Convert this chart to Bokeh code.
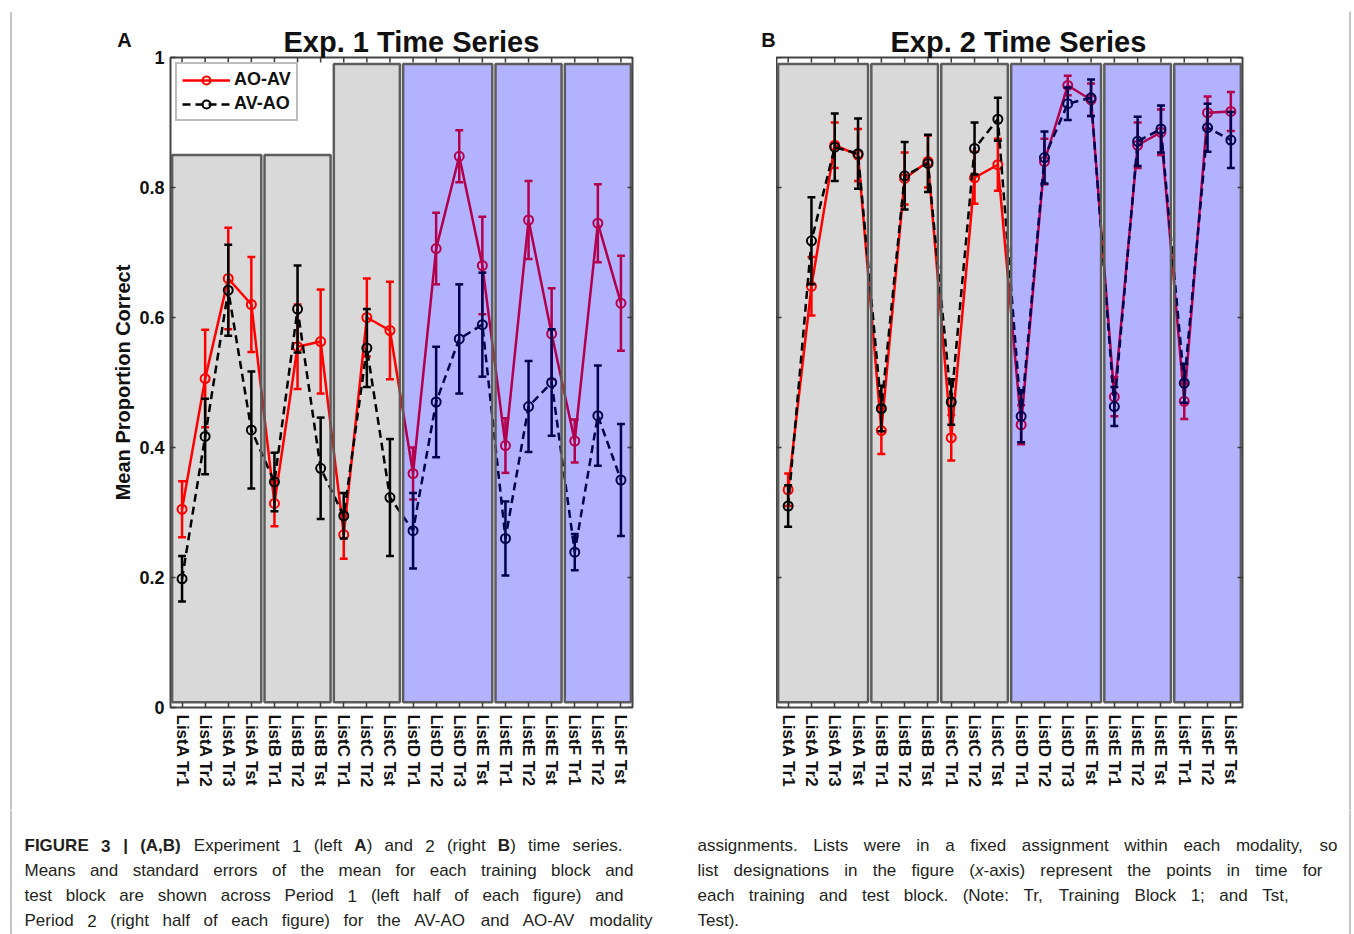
import re
import numpy as np
from bokeh.plotting import figure
from bokeh.models import (Range1d, FixedTicker, Legend, LegendItem, NumeralTickFormatter, Title,
                          Plot)
from bokeh.layouts import column, row
from bokeh.embed import file_html
from bokeh.resources import INLINE
from bokeh.core.properties import value

# ---------------- data ----------------
categories = ["ListA Tr1", "ListA Tr2", "ListA Tr3", "ListA Tst",
              "ListB Tr1", "ListB Tr2", "ListB Tst",
              "ListC Tr1", "ListC Tr2", "ListC Tst",
              "ListD Tr1", "ListD Tr2", "ListD Tr3", "ListE Tst",
              "ListE Tr1", "ListE Tr2", "ListE Tst",
              "ListF Tr1", "ListF Tr2", "ListF Tst"]
block_sizes = [4, 3, 3, 4, 3, 3]
block_is_period2 = [False, False, False, True, True, True]
exp1_block_tops = [0.85, 0.85, 0.99, 0.99, 0.99, 0.99]
exp2_block_tops = [0.99, 0.99, 0.99, 0.99, 0.99, 0.99]
y_ticks = [0, 0.2, 0.4, 0.6, 0.8, 1]
series_names = ["AO-AV", "AV-AO"]

exp1_aoav = [0.305, 0.506, 0.660, 0.620, 0.314, 0.555, 0.563, 0.266, 0.600, 0.580,
             0.360, 0.706, 0.848, 0.680, 0.403, 0.750, 0.575, 0.410, 0.745, 0.622]
exp1_aoav_se = [0.043, 0.075, 0.078, 0.073, 0.035, 0.065, 0.080, 0.037, 0.060, 0.075,
                0.040, 0.055, 0.040, 0.075, 0.042, 0.060, 0.070, 0.033, 0.060, 0.073]
exp1_avao = [0.198, 0.417, 0.642, 0.427, 0.347, 0.613, 0.368, 0.295, 0.553, 0.323,
             0.272, 0.470, 0.567, 0.589, 0.260, 0.463, 0.500, 0.239, 0.449, 0.350]
exp1_avao_se = [0.035, 0.058, 0.070, 0.090, 0.045, 0.067, 0.078, 0.035, 0.060, 0.090,
                0.058, 0.085, 0.084, 0.080, 0.057, 0.070, 0.082, 0.028, 0.077, 0.086]

exp2_aoav = [0.335, 0.648, 0.865, 0.850, 0.426, 0.814, 0.840, 0.415, 0.815, 0.835,
             0.435, 0.840, 0.957, 0.935, 0.478, 0.865, 0.885, 0.471, 0.915, 0.917]
exp2_aoav_se = [0.025, 0.045, 0.035, 0.040, 0.036, 0.040, 0.040, 0.035, 0.040, 0.040,
                0.030, 0.035, 0.015, 0.025, 0.030, 0.035, 0.035, 0.027, 0.025, 0.030]
exp2_avao = [0.310, 0.718, 0.862, 0.852, 0.460, 0.818, 0.837, 0.470, 0.860, 0.905,
             0.448, 0.846, 0.929, 0.938, 0.463, 0.871, 0.890, 0.499, 0.892, 0.873]
exp2_avao_se = [0.032, 0.067, 0.052, 0.054, 0.035, 0.052, 0.044, 0.035, 0.040, 0.033,
                0.040, 0.040, 0.025, 0.028, 0.030, 0.038, 0.036, 0.030, 0.037, 0.043]

titles = ["Exp. 1 Time Series", "Exp. 2 Time Series"]
panel_letters = ["A", "B"]
y_axis_title = "Mean Proportion Correct"

caption_left = [
    "**FIGURE** **3** **|** **(A,B)** Experiment 1 (left **A**) and 2 (right **B**) time series.",
    "Means and standard errors of the mean for each training block and",
    "test block are shown across Period 1 (left half of each figure) and",
    "Period 2 (right half of each figure) for the AV-AO and AO-AV modality",
]
caption_right = [
    "assignments. Lists were in a fixed assignment within each modality, so",
    "list designations in the figure (_x_-axis) represent the points in time for",
    "each training and test block. (Note: Tr, Training Block 1; and Tst,",
    "Test).",
]

# ---------------- style / geometry ----------------
FONT = "Liberation Sans"
RED = "#ff0000"
BLACK = "#000000"
GRAY_FILL = "#d9d9d9"
EDGE = "#5c5c5c"
BORDER = "#8a8a8a"
TXT = "#111111"
W = 1354
H = 934
HEAD_H = 11          # strip holding the top page border line
ROW_H = 799          # panels row
CAP_H = H - HEAD_H - ROW_H
FRAME_TOP = 46       # in row coordinates
FRAME_H = 650
BOTTOM_B = ROW_H - FRAME_TOP - FRAME_H
TICK_PX = 5
HAS_FRAME_ALIGN = "frame_align" in Plot.properties()


def no_align(f):
    if HAS_FRAME_ALIGN:
        f.frame_align = False
    return f


def blank_fig(w, h):
    f = figure(width=w, height=h, x_range=Range1d(0, w), y_range=Range1d(h, 0),
               output_backend="svg", toolbar_location=None,
               x_axis_type=None, y_axis_type=None, min_border=0)
    f.outline_line_color = None
    f.background_fill_color = "white"
    f.border_fill_color = "white"
    return no_align(f)


def make_panel(title, aoav, aoav_se, avao, avao_se, tops, width, bl, br,
               title_offset, with_yaxis, show_legend):
    n = len(categories)
    xs = np.arange(1, n + 1)
    p = figure(width=width, height=ROW_H, x_range=Range1d(0.5, n + 0.5),
               y_range=Range1d(0, 1), output_backend="svg", toolbar_location=None,
               y_axis_location="left" if with_yaxis else None,
               min_border_left=bl, min_border_right=br, min_border_top=FRAME_TOP,
               min_border_bottom=BOTTOM_B)
    no_align(p)
    p.xgrid.visible = False
    p.ygrid.visible = False
    p.outline_line_color = "#454545"
    p.outline_line_width = 2
    p.background_fill_color = "white"
    p.border_fill_color = "white"
    fw = width - bl - br
    dxu = n / fw            # data units per pixel (x)
    dyu = 1.0 / FRAME_H     # data units per pixel (y)

    sizes = np.array(block_sizes)
    first = np.cumsum(np.r_[0, sizes[:-1]]) + 1
    last = first + sizes - 1
    inset = 0.07
    lefts = first - 0.5 + inset
    rights = last + 0.5 - inset
    bottoms = np.full(len(sizes), 0.008)
    tops = np.array(tops, dtype=float)
    per2 = np.array(block_is_period2)

    p.quad(left=lefts[~per2], right=rights[~per2], bottom=bottoms[~per2], top=tops[~per2],
           fill_color=GRAY_FILL, line_color=None)
    p.quad(left=lefts[per2], right=rights[per2], bottom=bottoms[per2], top=tops[per2],
           fill_color="white", line_color=None)

    def draw(color, dash, y, se):
        y = np.array(y)
        se = np.array(se)
        lo = y - se
        hi = y + se
        cw = 0.17
        p.segment(xs, lo, xs, hi, line_color=color, line_width=2.5)
        p.segment(xs - cw, hi, xs + cw, hi, line_color=color, line_width=2.5)
        p.segment(xs - cw, lo, xs + cw, lo, line_color=color, line_width=2.5)
        ln = p.line(xs, y, line_color=color, line_width=2.5, line_dash=dash)
        mk = p.scatter(xs, y, marker="circle", size=9, line_color=color, line_width=2,
                       fill_color=None)
        return ln, mk

    r_ln, r_mk = draw(RED, "solid", aoav, aoav_se)
    b_ln, b_mk = draw(BLACK, "8 5", avao, avao_se)

    # translucent blue over period-2 blocks
    p.quad(left=lefts[per2], right=rights[per2], bottom=bottoms[per2], top=tops[per2],
           fill_color="#0000ff", fill_alpha=0.3, line_color=None)
    p.quad(left=lefts, right=rights, bottom=bottoms, top=tops, fill_color=None,
           line_color=EDGE, line_width=2.5)

    # unlabeled inward ticks on the top, right (and left when no y axis)
    yt = np.array(y_ticks, dtype=float)
    tick_kw = dict(line_color="#3a3a3a", line_width=1.5)
    p.segment(xs, np.ones(n), xs, np.ones(n) - TICK_PX * dyu, **tick_kw)
    p.segment(np.full(len(yt), n + 0.5), yt, np.full(len(yt), n + 0.5 - TICK_PX * dxu), yt,
              **tick_kw)
    if not with_yaxis:
        p.segment(np.full(len(yt), 0.5), yt, np.full(len(yt), 0.5 + TICK_PX * dxu), yt,
                  **tick_kw)

    # axes
    p.xaxis.ticker = FixedTicker(ticks=[int(v) for v in xs])
    p.xaxis.major_label_overrides = {int(i): c for i, c in zip(xs, categories)}
    p.xaxis.major_label_orientation = "vertical"
    p.xaxis.major_label_text_font = FONT
    p.xaxis.major_label_text_font_style = "bold"
    p.xaxis.major_label_text_font_size = "17px"
    p.xaxis.major_label_text_color = TXT
    p.xaxis.major_label_standoff = 7
    if with_yaxis:
        p.yaxis.ticker = FixedTicker(ticks=y_ticks)
        p.yaxis.formatter = NumeralTickFormatter(format="0.[0]")
        p.yaxis.major_label_text_font = FONT
        p.yaxis.major_label_text_font_style = "bold"
        p.yaxis.major_label_text_font_size = "18px"
        p.yaxis.major_label_text_color = TXT
        p.yaxis.major_label_standoff = 6
    for ax in p.axis:
        ax.axis_line_color = None
        ax.major_tick_in = TICK_PX
        ax.major_tick_out = 0
        ax.major_tick_line_color = "#3a3a3a"
        ax.major_tick_line_width = 1.5
        ax.minor_tick_line_color = None

    p.title = Title(text=title, align="left", offset=title_offset, standoff=0,
                    text_font=FONT, text_font_style="bold", text_font_size="29px",
                    text_color=TXT)

    if show_legend:
        leg = Legend(items=[LegendItem(label=series_names[0], renderers=[r_ln, r_mk]),
                            LegendItem(label=series_names[1], renderers=[b_ln, b_mk])],
                     location="top_left", margin=5, padding=5, spacing=3,
                     glyph_width=48, glyph_height=20, label_height=20, label_standoff=4,
                     label_text_font=FONT, label_text_font_style="bold",
                     label_text_font_size="18px", label_text_color=TXT,
                     border_line_color="#7a7a7a", border_line_width=2,
                     background_fill_color="white", background_fill_alpha=1)
        p.add_layout(leg)
    return p


# left strip with panel letter A and the y axis title
sideA = blank_fig(135, ROW_H)
sideA.text(x=[124], y=[28], text=[panel_letters[0]], text_font=value(FONT),
           text_font_style="bold", text_font_size="20px", text_color=TXT,
           text_align="center", text_baseline="middle")
sideA.text(x=[122], y=[FRAME_TOP + FRAME_H / 2], text=[y_axis_title], angle=np.pi / 2,
           text_font=value(FONT), text_font_style="bold", text_font_size="20px",
           text_color=TXT, text_align="center", text_baseline="middle")
sideA.segment(x0=[10.5], y0=[0], x1=[10.5], y1=[ROW_H], line_color=BORDER, line_width=1)

pA = make_panel(titles[0], exp1_aoav, exp1_aoav_se, exp1_avao, exp1_avao_se,
                exp1_block_tops, width=542, bl=35, br=45, title_offset=113,
                with_yaxis=True, show_legend=True)

sideB = blank_fig(99, ROW_H)
sideB.text(x=[91], y=[28], text=[panel_letters[1]], text_font=value(FONT),
           text_font_style="bold", text_font_size="20px", text_color=TXT,
           text_align="center", text_baseline="middle")

pB = make_panel(titles[1], exp2_aoav, exp2_aoav_se, exp2_avao, exp2_avao_se,
                exp2_block_tops, width=470, bl=0, br=4, title_offset=114,
                with_yaxis=False, show_legend=False)

sideR = blank_fig(108, ROW_H)
sideR.segment(x0=[103.5], y0=[0], x1=[103.5], y1=[ROW_H], line_color=BORDER, line_width=1)

head = blank_fig(W, HEAD_H)
head.segment(x0=[10.5, 10.5, 1349.5], y0=[10.5, 10.5, 10.5], x1=[1349.5, 10.5, 1349.5],
             y1=[10.5, HEAD_H, HEAD_H], line_color=BORDER, line_width=1)

# ---------------- caption ----------------
_W = {' ': 278, '!': 278, '(': 333, ')': 333, ',': 278, '-': 333, '.': 278, '/': 278,
      ':': 278, ';': 278, '|': 260,
      'A': 667, 'B': 667, 'C': 722, 'D': 722, 'E': 667, 'F': 611, 'G': 778, 'H': 722,
      'I': 278, 'J': 500, 'K': 667, 'L': 556, 'M': 833, 'N': 722, 'O': 778, 'P': 667,
      'Q': 778, 'R': 722, 'S': 667, 'T': 611, 'U': 722, 'V': 667, 'W': 944, 'X': 667,
      'Y': 667, 'Z': 611,
      'a': 556, 'b': 556, 'c': 500, 'd': 556, 'e': 556, 'f': 278, 'g': 556, 'h': 556,
      'i': 222, 'j': 222, 'k': 500, 'l': 222, 'm': 833, 'n': 556, 'o': 556, 'p': 556,
      'q': 556, 'r': 333, 's': 500, 't': 278, 'u': 556, 'v': 500, 'w': 722, 'x': 500,
      'y': 500, 'z': 500}
for _d in "0123456789":
    _W[_d] = 556
_WB = {'A': 722, 'B': 722, 'C': 722, 'D': 722, 'E': 667, 'F': 611, 'G': 778, 'H': 722,
       'I': 278, 'R': 722, 'U': 722, '|': 280}


def text_w(s, style, fs):
    tot = 0
    for ch in s:
        if style == "bold":
            tot += _WB.get(ch, _W.get(ch, 556) * 1.05)
        else:
            tot += _W.get(ch, 556)
    return tot * fs / 1000.0


def segments(word):
    out = []
    for part in re.split(r'(\*\*[^*]+\*\*|_[^_]+_)', word):
        if not part:
            continue
        if part.startswith('**'):
            out.append((part[2:-2], 'bold'))
        elif part.startswith('_') and part.endswith('_') and len(part) > 2:
            out.append((part[1:-1], 'italic'))
        else:
            out.append((part, 'normal'))
    return out


CAP_FS = 17
CAP_TOP = HEAD_H + ROW_H
cap_line_y = [845, 870, 895, 920]
left_x0, left_x1 = 24, [622, 633, 623, 652]
right_x0, right_x1 = 697, [1337, 1322, 1290, None]

pieces = {"normal": ([], [], []), "bold": ([], [], []), "italic": ([], [], [])}


def layout_line(text, x0, x1, yc):
    words = text.split(' ')
    segs = [segments(w) for w in words]
    widths = [sum(text_w(s, st, CAP_FS) for s, st in sg) for sg in segs]
    gaps = len(words) - 1
    if x1 is None or gaps == 0:
        gap = _W[' '] * CAP_FS / 1000.0
    else:
        gap = (x1 - x0 - sum(widths)) / gaps
    x = x0
    for sg, w in zip(segs, widths):
        xx = x
        for s, st in sg:
            pieces[st][0].append(xx)
            pieces[st][1].append(yc)
            pieces[st][2].append(s)
            xx += text_w(s, st, CAP_FS)
        x += w + gap


for i, line in enumerate(caption_left):
    layout_line(line, left_x0, left_x1[i], cap_line_y[i] - CAP_TOP)
for i, line in enumerate(caption_right):
    layout_line(line, right_x0, right_x1[i], cap_line_y[i] - CAP_TOP)

cap = blank_fig(W, CAP_H)
for st, (px_, py_, pt_) in pieces.items():
    if not pt_:
        continue
    cap.text(x=px_, y=py_, text=pt_, text_font=value(FONT),
             text_font_size=value(f"{CAP_FS}px"), text_font_style=value(st),
             text_color="#231f20", text_align="left", text_baseline="middle")
cap.segment(x0=[10.5, 1349.5], y0=[0, 0], x1=[10.5, 1349.5], y1=[CAP_H, CAP_H],
            line_color=BORDER, line_width=1)

layout = column(head, row(sideA, pA, sideB, pB, sideR), cap)
open("out.html", "w").write(file_html(layout, INLINE))
